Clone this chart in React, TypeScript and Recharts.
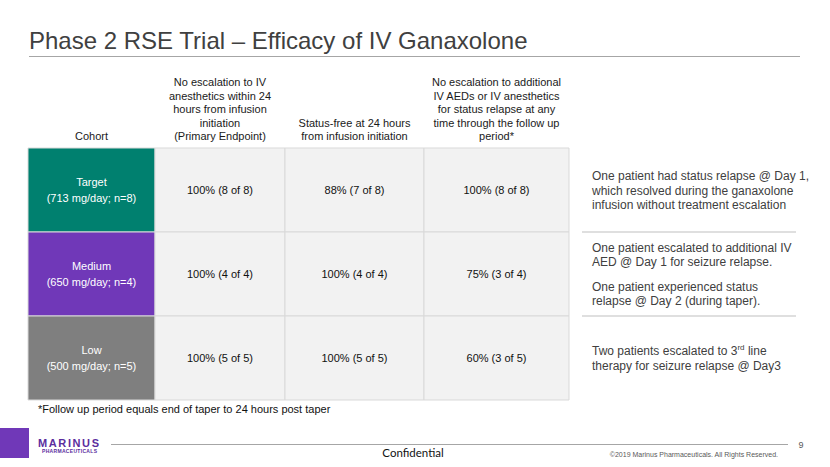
import React from "react";
import { BarChart, Bar, XAxis, YAxis, LabelList, Cell } from "recharts";

// table content
const cohorts = ["Target", "Medium", "Low"];
const doses = ["(713 mg/day; n=8)", "(650 mg/day; n=4)", "(500 mg/day; n=5)"];
const primaryEndpoint = ["100% (8 of 8)", "100% (4 of 4)", "100% (5 of 5)"];
const statusFree24h = ["88% (7 of 8)", "100% (4 of 4)", "100% (5 of 5)"];
const noEscalationFollowUp = ["100% (8 of 8)", "75% (3 of 4)", "60% (3 of 5)"];

const headers = [
  ["Cohort"],
  ["No escalation to IV", "anesthetics within 24", "hours from infusion", "initiation", "(Primary Endpoint)"],
  ["Status-free at 24 hours", "from infusion initiation"],
  ["No escalation to additional", "IV AEDs or IV anesthetics", "for status relapse at any", "time through the follow up", "period*"],
];

// side notes, one list of paragraphs per cohort ("^" marks a superscript)
const notes = [
  [["One patient had status relapse @ Day 1,", "which resolved during the ganaxolone", "infusion without treatment escalation"]],
  [
    ["One patient escalated to additional IV", "AED @ Day 1 for seizure relapse."],
    ["One patient experienced status", "relapse @ Day 2 (during taper)."],
  ],
  [["Two patients escalated to 3^rd line", "therapy for seizure relapse @ Day3"]],
];

const footnote = "*Follow up period equals end of taper to 24 hours post taper";

// layout
const COL_W = [127, 130, 139, 145, 13, 214];
const COHORT_FILL = ["#00806F", "#7038B8", "#7F7F7F"];
const FONT = "'Liberation Sans', Arial, sans-serif";
const TOTAL = COL_W.reduce((a, b) => a + b, 0);
const headerTicks = COL_W.slice(0, 4).map(
  (w, i) => COL_W.slice(0, i).reduce((a, b) => a + b, 0) + w / 2
);

const rows = cohorts.map((c, i) => ({
  idx: i,
  cohort: `${c}\n${doses[i]}`,
  primary: primaryEndpoint[i],
  statusFree: statusFree24h[i],
  followUp: noEscalationFollowUp[i],
  c0: COL_W[0],
  c1: COL_W[1],
  c2: COL_W[2],
  c3: COL_W[3],
  c4: COL_W[4],
  c5: COL_W[5],
}));

function box(props: any) {
  const vb = props.viewBox && props.viewBox.width != null ? props.viewBox : props;
  return { x: vb.x, y: vb.y, width: vb.width, height: vb.height };
}

function CellText(props: any) {
  const { x, y, width, height } = box(props);
  const lines = String(props.value).split("\n");
  const cx = x + width / 2;
  const lh = 16;
  const start = y + height / 2 - ((lines.length - 1) * lh) / 2 + 4;
  return (
    <text textAnchor="middle" fontSize={11} fontFamily={FONT} fill={props.color}>
      {lines.map((l, i) => (
        <tspan key={i} x={cx} y={start + i * lh}>
          {l}
        </tspan>
      ))}
    </text>
  );
}

function NoteLine({ x, y, text }: { x: number; y: number; text: string }) {
  const parts = text.split(/\^(\w+)/);
  return (
    <text x={x} y={y} fontSize={12} fontFamily={FONT} fill="#404040">
      {parts.map((p, i) =>
        i % 2 === 1 ? (
          <tspan key={i} fontSize={8} dy={-5}>
            {p}
          </tspan>
        ) : (
          <tspan key={i} dy={i > 0 ? 5 : 0}>
            {p}
          </tspan>
        )
      )}
    </text>
  );
}

function NoteText(props: any) {
  const { x, y, height } = box(props);
  const paras = notes[Number(props.value)] || [];
  const lh = 14.5;
  const gap = 10;
  const nLines = paras.reduce((a, p) => a + p.length, 0);
  const total = (nLines - 1) * lh + (paras.length - 1) * gap;
  let yy = y + height / 2 - total / 2 + 4.5;
  const out: React.ReactNode[] = [];
  paras.forEach((p, pi) => {
    p.forEach((l, li) => {
      out.push(<NoteLine key={`${pi}-${li}`} x={x + 10} y={yy} text={l} />);
      yy += lh;
    });
    yy += gap;
  });
  return <g>{out}</g>;
}

function NoteShape(props: any) {
  const { x, y, width, height } = props;
  const i = props.payload?.idx ?? props.index;
  if (i >= cohorts.length - 1) return <g />;
  return <line x1={x} x2={x + width} y1={y + height} y2={y + height} stroke="#BFBFBF" strokeWidth={1} />;
}

function HeaderTick(props: any) {
  const { x, y, payload } = props;
  const i = headerTicks.indexOf(payload.value);
  const lines = headers[i] || [];
  const lh = 13.4;
  const last = y - 8;
  return (
    <text textAnchor="middle" fontSize={11} fontFamily={FONT} fill="#1a1a1a">
      {lines.map((l, k) => (
        <tspan key={k} x={x} y={last - (lines.length - 1 - k) * lh}>
          {l}
        </tspan>
      ))}
    </text>
  );
}

export default function App() {
  return (
    <div style={{ position: "absolute", left: 0, top: 0, width: 830, height: 467, background: "#fff", overflow: "hidden" }}>
      <div style={{ position: "absolute", left: 0, top: 0 }}>
        <BarChart
          width={830}
          height={467}
          data={rows}
          layout="vertical"
          barCategoryGap={0}
          barGap={0}
          margin={{ top: 58, right: 34, bottom: 67, left: 28 }}
        >
          <XAxis
            type="number"
            orientation="top"
            domain={[0, TOTAL]}
            ticks={headerTicks}
            interval={0}
            height={90}
            axisLine={false}
            tickLine={false}
            tickSize={0}
            tickMargin={0}
            tick={<HeaderTick />}
          />
          <YAxis type="category" dataKey="idx" hide />
          <Bar dataKey="c0" stackId="t" stroke="#D9D9D9" strokeWidth={1} isAnimationActive={false}>
            {rows.map((r) => (
              <Cell key={r.idx} fill={COHORT_FILL[r.idx]} />
            ))}
            <LabelList dataKey="cohort" content={(p: any) => <CellText {...p} color="#ffffff" />} />
          </Bar>
          <Bar dataKey="c1" stackId="t" fill="#F2F2F2" stroke="#D9D9D9" strokeWidth={1} isAnimationActive={false}>
            <LabelList dataKey="primary" content={(p: any) => <CellText {...p} color="#111111" />} />
          </Bar>
          <Bar dataKey="c2" stackId="t" fill="#F2F2F2" stroke="#D9D9D9" strokeWidth={1} isAnimationActive={false}>
            <LabelList dataKey="statusFree" content={(p: any) => <CellText {...p} color="#111111" />} />
          </Bar>
          <Bar dataKey="c3" stackId="t" fill="#F2F2F2" stroke="#D9D9D9" strokeWidth={1} isAnimationActive={false}>
            <LabelList dataKey="followUp" content={(p: any) => <CellText {...p} color="#111111" />} />
          </Bar>
          <Bar dataKey="c4" stackId="t" fill="none" isAnimationActive={false} />
          <Bar dataKey="c5" stackId="t" fill="none" shape={<NoteShape />} isAnimationActive={false}>
            <LabelList dataKey="idx" content={(p: any) => <NoteText {...p} />} />
          </Bar>
        </BarChart>
      </div>
      <svg width={830} height={467} style={{ position: "absolute", left: 0, top: 0, pointerEvents: "none" }}>
        <text x={29} y={49} fontSize={24} fontFamily={FONT} fill="#404040">
          Phase 2 RSE Trial – Efficacy of IV Ganaxolone
        </text>
        <line x1={29} x2={800} y1={56.5} y2={56.5} stroke="#A6A6A6" strokeWidth={1} />
        <text x={38} y={413} fontSize={11} fontFamily={FONT} fill="#111111">
          {footnote}
        </text>
        <rect x={0} y={428} width={29} height={30} fill="#7038B8" />
        <text x={38} y={447} fontSize={11} fontWeight="bold" fontFamily={FONT} fill="#5B2D9E" textLength={61} lengthAdjust="spacing">
          MARINUS
        </text>
        <text x={42} y={453} fontSize={5} fontWeight="bold" fontFamily={FONT} fill="#5B2D9E" textLength={55} lengthAdjust="spacing">
          PHARMACEUTICALS
        </text>
        <line x1={111} x2={788} y1={444.5} y2={444.5} stroke="#A6A6A6" strokeWidth={1} />
        <text x={413} y={457} textAnchor="middle" fontSize={11.5} fontFamily="Lato, 'Open Sans', sans-serif" fill="#111111">
          Confidential
        </text>
        <text x={801} y={448} textAnchor="middle" fontSize={9} fontFamily={FONT} fill="#595959">
          9
        </text>
        <text x={778} y={457} textAnchor="end" fontSize={7} fontFamily={FONT} fill="#595959">
          ©2019 Marinus Pharmaceuticals. All Rights Reserved.
        </text>
      </svg>
    </div>
  );
}
